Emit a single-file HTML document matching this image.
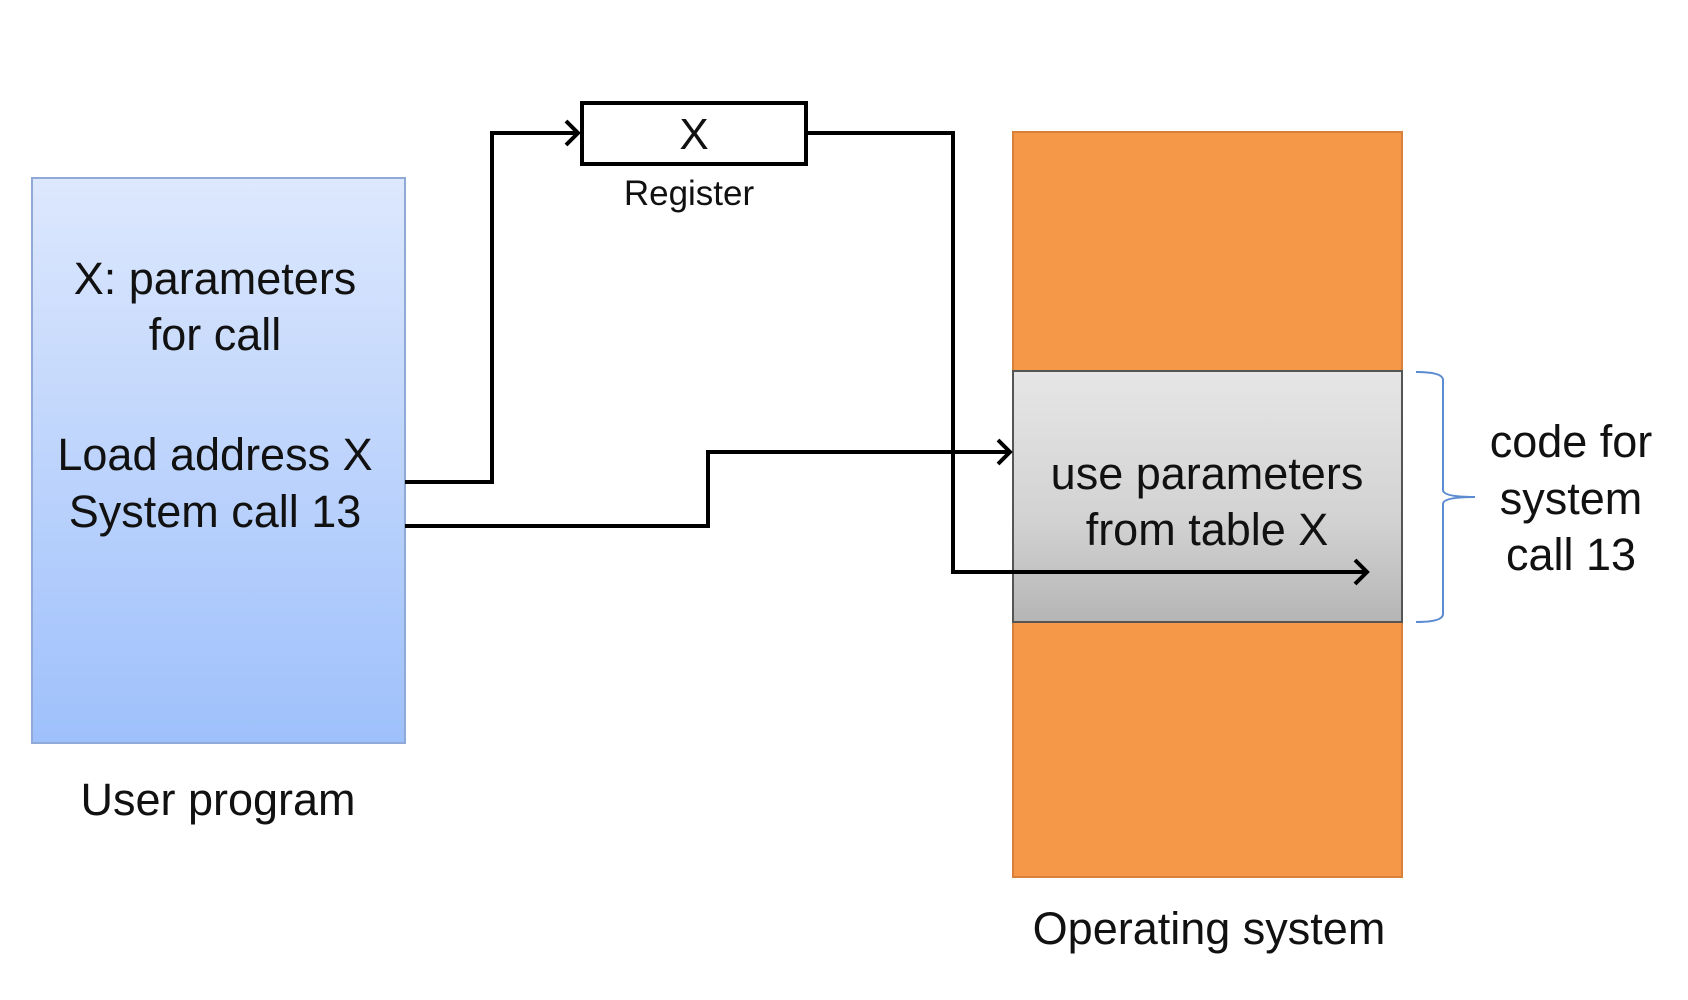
<!DOCTYPE html>
<html><head><style>body{margin:0;background:#fff}svg{display:block}</style></head><body>
<svg width="1688" height="1000" viewBox="0 0 1688 1000" xmlns="http://www.w3.org/2000/svg" font-family="Liberation Sans, sans-serif">
<defs>
<linearGradient id="b" x1="0" y1="0" x2="0" y2="1"><stop offset="0" stop-color="#dde8fd"/><stop offset="1" stop-color="#9ec0fb"/></linearGradient>
<linearGradient id="g" x1="0" y1="0" x2="0" y2="1"><stop offset="0" stop-color="#e6e6e6"/><stop offset="0.6" stop-color="#d2d2d2"/><stop offset="1" stop-color="#b5b5b5"/></linearGradient>
</defs>
<rect x="32" y="178" width="373" height="565" fill="url(#b)" stroke="#90aad8" stroke-width="2"/>
<rect x="1013" y="132" width="389" height="745" fill="#f59847" stroke="#d9803a" stroke-width="2"/>
<rect x="1013" y="371" width="389" height="251" fill="url(#g)" stroke="#555" stroke-width="2"/>
<rect x="582" y="103" width="224" height="61" fill="#fff" stroke="#000" stroke-width="4"/>
<g fill="none" stroke="#000" stroke-width="4">
<polyline points="405,482 492,482 492,133 578,133"/>
<polyline points="566,121 578,133 566,145"/>
<polyline points="806,133 953,133 953,572 1367,572"/>
<polyline points="1355,560 1367,572 1355,584"/>
<polyline points="405,526 708,526 708,452 1010,452"/>
<polyline points="998,440 1010,452 998,464"/>
</g>
<path d="M1416,372 Q1443,372 1443,380 L1443,490 Q1443,497 1475,497 Q1443,497 1443,504 L1443,614 Q1443,622 1416,622" fill="none" stroke="#5b8bd0" stroke-width="2"/>
<g text-anchor="middle" fill="#111" font-size="45">
<text x="215" y="294">X: parameters</text>
<text x="215" y="350">for call</text>
<text x="215" y="470">Load address X</text>
<text x="215" y="527">System call 13</text>
<text x="218" y="815">User program</text>
<text x="694" y="149" font-size="44">X</text>
<text x="689" y="205" font-size="35">Register</text>
<text x="1207" y="489">use parameters</text>
<text x="1207" y="545">from table X</text>
<text x="1571" y="457">code for</text>
<text x="1571" y="514">system</text>
<text x="1571" y="570">call 13</text>
<text x="1209" y="944">Operating system</text>
</g>
</svg>
</body></html>
